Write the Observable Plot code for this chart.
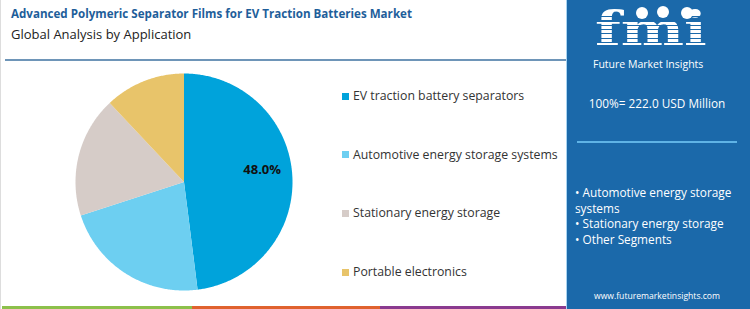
<!DOCTYPE html>
<html>
<head>
<meta charset="utf-8">
<script src="https://cdn.jsdelivr.net/npm/d3@7"></script>
<script src="https://cdn.jsdelivr.net/npm/@observablehq/plot@0.6"></script>
<style>
  html, body { margin: 0; padding: 0; background: #fff; }
  #root { position: relative; width: 750px; height: 309px; overflow: hidden; font-family: "Open Sans", sans-serif; }
  .abs { position: absolute; white-space: nowrap; }
</style>
</head>
<body>
<div id="root"></div>
<script>
const categories = ["EV traction battery separators", "Automotive energy storage systems", "Stationary energy storage", "Portable electronics"];
const shares = [48.0, 22.0, 18.0, 12.0];
const colors = ["#00A3DB", "#6DCFF1", "#D6CCC8", "#E8C46A"];
const title = "Advanced Polymeric Separator Films for EV Traction Batteries Market";
const subtitle = "Global Analysis by Application";
const totalLabel = "100%= 222.0 USD Million";
const panelBullets = ["• Automotive energy storage systems", "• Stationary energy storage", "• Other Segments"];
const website = "www.futuremarketinsights.com";

const root = document.getElementById("root");
function add(html, style) {
  const d = document.createElement("div");
  d.className = "abs";
  d.innerHTML = html;
  Object.assign(d.style, style);
  root.appendChild(d);
  return d;
}

// header
add(title, {left: "11px", top: "6px", fontSize: "11.6px", fontWeight: "700", color: "#1E5E9A", lineHeight: "16px"});
add(subtitle, {left: "11px", top: "25px", fontSize: "13px", color: "#222", lineHeight: "18px"});
add("", {left: "5px", top: "59px", width: "561px", height: "2px", background: "#6E95B8"});

// bottom stripe
add("", {left: "2px", top: "306px", width: "190px", height: "3px", background: "#8CC04B"});
add("", {left: "192px", top: "306px", width: "188px", height: "3px", background: "#E0622E"});
add("", {left: "380px", top: "306px", width: "187px", height: "3px", background: "#8A3A8F"});
add("", {left: "0px", top: "0px", width: "1px", height: "309px", background: "#ddd"});

// right panel
add("", {left: "566px", top: "0px", width: "1px", height: "309px", background: "#A8D4F2"});
add("", {left: "567px", top: "0px", width: "183px", height: "309px", background: "#1B69AA"});

// logo
add("fmi", {left: "595px", top: "10px", fontSize: "46px", fontWeight: "700", fontFamily: "'DejaVu Serif', serif", color: "#fff", lineHeight: "38px", transform: "scaleX(1.3)", transformOrigin: "0 0"});
for (let i = 0; i < 8; i++) {
  add("", {left: "590px", top: (16 + i * 4.3) + "px", width: "120px", height: "1.3px", background: "#1B69AA"});
}
[[642, 13], [663, 12], [687, 13]].forEach(([x, y]) => add("", {left: (x - 6) + "px", top: (y - 6) + "px", width: "12px", height: "12px", borderRadius: "50%", background: "#fff"}));
add("Future Market Insights", {left: "593px", top: "59px", fontSize: "10.5px", color: "#fff", lineHeight: "11px"});
add(totalLabel, {left: "567px", width: "180px", textAlign: "center", top: "95px", fontSize: "11.8px", color: "#fff", lineHeight: "16px"});
add("", {left: "577px", top: "141px", width: "160px", height: "2px", background: "#5FB3E6"});
add(panelBullets.join("<br>"), {left: "575px", top: "185px", width: "160px", whiteSpace: "normal", fontSize: "11.8px", lineHeight: "15.5px", color: "#fff"});
add(website, {left: "567px", width: "180px", textAlign: "center", top: "290px", fontSize: "8.6px", color: "#fff", lineHeight: "12px"});

// legend
categories.forEach((c, i) => {
  const y = 96 + i * 58.7;
  add("", {left: "342px", top: (y - 3.5) + "px", width: "7px", height: "7px", background: colors[i]});
  add(c, {left: "353px", top: (y - 10) + "px", fontSize: "12.3px", color: "#333", lineHeight: "20px"});
});

// pie via d3.pie angles -> polygons drawn through Plot scales
const data = categories.map((c, i) => ({category: c, share: shares[i]}));
const arcs = d3.pie().value(d => d.share).sort(null)(data);
const pts = [];
arcs.forEach(a => {
  pts.push({category: a.data.category, x: 0, y: 0});
  const n = Math.max(8, Math.ceil((a.endAngle - a.startAngle) / 0.01));
  for (let k = 0; k <= n; k++) {
    const t = a.startAngle + (a.endAngle - a.startAngle) * k / n;
    pts.push({category: a.data.category, x: Math.sin(t), y: Math.cos(t)});
  }
  pts.push({category: a.data.category, x: 0, y: 0});
});
const labels = arcs.filter(a => a.data.share === d3.max(shares)).map(a => {
  const m = (a.startAngle + a.endAngle) / 2;
  return {x: 0.74 * Math.sin(m), y: 0.74 * Math.cos(m), text: a.data.share.toFixed(1) + "%"};
});

const chart = Plot.plot({
  width: 217, height: 217, margin: 0,
  x: {domain: [-1, 1], axis: null},
  y: {domain: [-1, 1], axis: null},
  color: {domain: categories, range: colors},
  marks: [
    Plot.line(pts, {x: "x", y: "y", z: "category", fill: "category", stroke: "none", curve: "linear"}),
    Plot.text(labels, {x: "x", y: "y", text: "text", dx: -2, dy: -7, fontSize: 13, fontWeight: "bold", fill: "#111", fontFamily: "Open Sans, sans-serif"})
  ]
});
chart.style.position = "absolute";
chart.style.left = "75px";
chart.style.top = "73px";
chart.style.overflow = "visible";
root.appendChild(chart);
</script>
</body>
</html>
